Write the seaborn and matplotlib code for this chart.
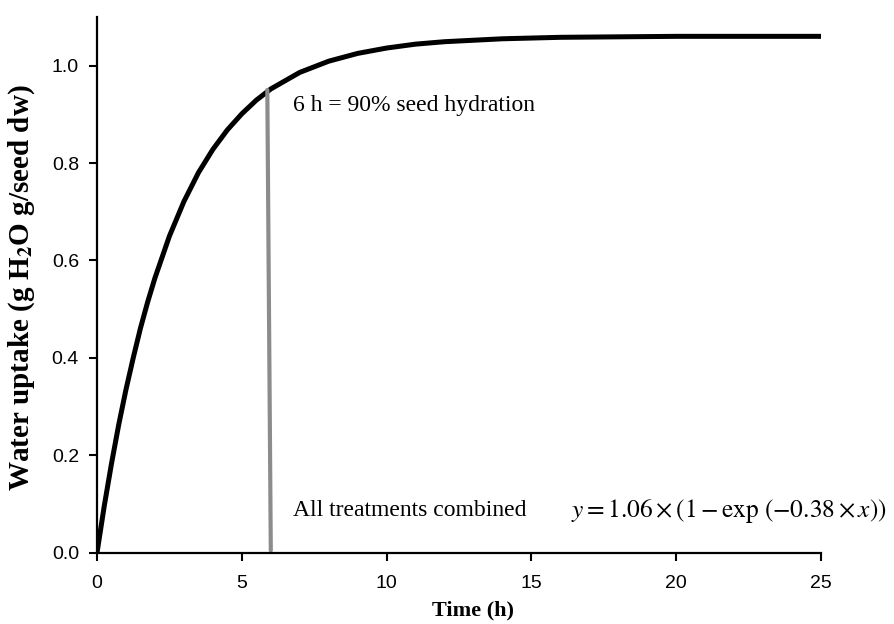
import numpy as np
import pandas as pd
import seaborn as sns
import matplotlib.pyplot as plt

# Water uptake curve
time_h = [0, 0.25, 0.5, 0.75, 1, 1.25, 1.5, 1.75, 2, 2.5, 3, 3.5, 4, 4.5, 5,
          5.5, 6, 7, 8, 9, 10, 11, 12, 14, 16, 18, 20, 25]
uptake = [0.0, 0.096, 0.183, 0.263, 0.335, 0.40, 0.461, 0.515, 0.564, 0.65,
          0.721, 0.78, 0.828, 0.868, 0.901, 0.929, 0.952, 0.986, 1.009, 1.025,
          1.036, 1.044, 1.049, 1.055, 1.058, 1.059, 1.06, 1.06]

# 6 h marker (slightly slanted grey line in the original)
mark_x = [6.0, 5.88]
mark_y = [0.005, 0.95]

df = pd.DataFrame({'time': time_h, 'uptake': uptake})

sns.set_style('ticks')
plt.rcParams['font.family'] = ['Liberation Sans', 'DejaVu Sans']
plt.rcParams['mathtext.fontset'] = 'stix'
plt.rcParams['text.color'] = 'black'
plt.rcParams['axes.labelcolor'] = 'black'
plt.rcParams['xtick.color'] = 'black'
plt.rcParams['ytick.color'] = 'black'

fig = plt.figure(figsize=(8.94, 6.24), dpi=100)
ax = fig.add_axes([0.1085, 0.114, 0.81, 0.859])

sns.lineplot(data=df, x='time', y='uptake', color='black', linewidth=3.6, ax=ax)
ax.plot(mark_x, mark_y, color='#8c8c8c', linewidth=3)

ax.set_xlim(0, 25)
ax.set_ylim(0, 1.10)
ax.set_xticks([0, 5, 10, 15, 20, 25])
ax.set_yticks([0.0, 0.2, 0.4, 0.6, 0.8, 1.0])
ax.set_yticklabels(['0.0', '0.2', '0.4', '0.6', '0.8', '1.0'])
ax.tick_params(labelsize=14, width=1.5, length=6, color='black', labelcolor='black')
ax.tick_params(axis='x', pad=10)
ax.tick_params(axis='y', pad=7)
for s in ['left', 'bottom']:
    ax.spines[s].set_linewidth(1.6)
    ax.spines[s].set_color('black')
sns.despine(ax=ax)

ax.set_xlabel('Time (h)', family='Liberation Serif', fontweight='bold',
              fontsize=16, va='center', color='black')
ax.xaxis.set_label_coords(0.519, -0.108)
ax.set_ylabel(r'Water uptake (g H$_\mathbf{2}$O g/seed dw)', family='Liberation Serif',
              fontweight='bold', fontsize=21, va='center', color='black')
ax.yaxis.set_label_coords(-0.1036, 0.494)

ax.text(6.77, 0.918, '6 h = 90% seed hydration', family='Liberation Serif',
        fontsize=17, va='center', ha='left', color='black')
ax.text(6.77, 0.086, 'All treatments combined', family='Liberation Serif',
        fontsize=17, va='center', ha='left', color='black')
ax.text(16.35, 0.086, r'$y = 1.06 \times (1 - \mathrm{exp}\ (-0.38 \times x))$',
        fontsize=18.3, va='center', ha='left', color='black')

fig.savefig('out.png', dpi=100)
